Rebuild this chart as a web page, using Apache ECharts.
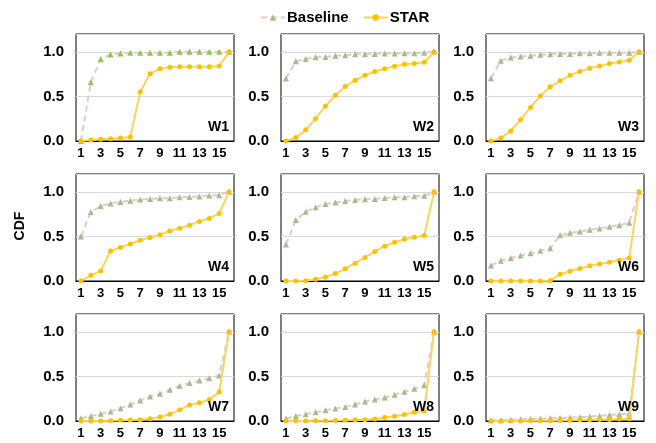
<!DOCTYPE html>
<html>
<head>
<meta charset="utf-8">
<script src="https://cdn.jsdelivr.net/npm/echarts@6/dist/echarts.min.js"></script>
<style>html,body{margin:0;padding:0;background:#fff}#c{width:656px;height:443px}</style>
</head>
<body>
<div id="c"></div>
<script>
const categories = ['1','2','3','4','5','6','7','8','9','10','11','12','13','14','15','16'];
const yTicks = [0, 0.5, 1.0];
const panelNames = ['W1','W2','W3','W4','W5','W6','W7','W8','W9'];

const baselineW1 = [0, 0.66, 0.92, 0.97, 0.98, 0.99, 0.99, 0.99, 0.99, 0.99, 1, 1, 1, 1, 1, 1];
const starW1 = [0, 0.01, 0.02, 0.025, 0.035, 0.045, 0.55, 0.755, 0.81, 0.826, 0.834, 0.834, 0.834, 0.834, 0.84, 1];
const baselineW2 = [0.70, 0.895, 0.92, 0.94, 0.943, 0.955, 0.962, 0.974, 0.974, 0.977, 0.98, 0.98, 0.985, 0.985, 0.99, 1];
const starW2 = [0, 0.038, 0.125, 0.25, 0.39, 0.513, 0.61, 0.68, 0.736, 0.78, 0.81, 0.838, 0.86, 0.87, 0.883, 1];
const baselineW3 = [0.705, 0.90, 0.936, 0.947, 0.955, 0.966, 0.974, 0.977, 0.977, 0.985, 0.985, 0.99, 0.99, 0.99, 0.99, 1];
const starW3 = [0, 0.034, 0.113, 0.238, 0.377, 0.506, 0.608, 0.675, 0.736, 0.78, 0.815, 0.84, 0.868, 0.887, 0.906, 1];
const baselineW4 = [0.50, 0.774, 0.84, 0.87, 0.887, 0.90, 0.913, 0.92, 0.928, 0.928, 0.94, 0.943, 0.947, 0.958, 0.962, 1];
const starW4 = [0, 0.064, 0.113, 0.336, 0.377, 0.415, 0.457, 0.487, 0.52, 0.562, 0.592, 0.626, 0.668, 0.70, 0.758, 1];
const baselineW5 = [0.41, 0.683, 0.777, 0.826, 0.864, 0.88, 0.898, 0.909, 0.917, 0.92, 0.932, 0.94, 0.94, 0.951, 0.955, 1];
const starW5 = [0, 0, 0.004, 0.02, 0.045, 0.083, 0.136, 0.2, 0.264, 0.332, 0.39, 0.434, 0.468, 0.49, 0.51, 1];
const baselineW6 = [0.174, 0.226, 0.257, 0.287, 0.31, 0.34, 0.366, 0.513, 0.54, 0.555, 0.574, 0.59, 0.608, 0.626, 0.653, 1];
const starW6 = [0, 0, 0, 0, 0, 0, 0.004, 0.075, 0.11, 0.14, 0.17, 0.19, 0.21, 0.234, 0.257, 1];
const baselineW7 = [0.03, 0.057, 0.08, 0.106, 0.143, 0.185, 0.23, 0.275, 0.306, 0.35, 0.396, 0.426, 0.453, 0.48, 0.51, 1];
const starW7 = [0, 0, 0, 0.004, 0.008, 0.011, 0.015, 0.026, 0.045, 0.075, 0.125, 0.18, 0.204, 0.24, 0.325, 1];
const baselineW8 = [0.026, 0.057, 0.075, 0.098, 0.12, 0.14, 0.158, 0.185, 0.219, 0.24, 0.264, 0.294, 0.328, 0.362, 0.40, 1];
const starW8 = [0, 0, 0, 0.002, 0.004, 0.006, 0.008, 0.011, 0.015, 0.023, 0.038, 0.053, 0.072, 0.098, 0.113, 1];
const baselineW9 = [0.008, 0.008, 0.015, 0.02, 0.023, 0.026, 0.03, 0.034, 0.038, 0.042, 0.049, 0.057, 0.068, 0.075, 0.083, 1];
const starW9 = [0, 0, 0, 0, 0.002, 0.003, 0.004, 0.006, 0.008, 0.011, 0.015, 0.018, 0.018, 0.022, 0.025, 1];

const baselineAll = [baselineW1, baselineW2, baselineW3, baselineW4, baselineW5, baselineW6, baselineW7, baselineW8, baselineW9];
const starAll = [starW1, starW2, starW3, starW4, starW5, starW6, starW7, starW8, starW9];

const FONT = 'Liberation Sans, Arial, sans-serif';
const colLeft = [76, 281, 486];
const rowTop = [34, 174, 314];
const gW = 158, gH = 107;

const grids = [], xAxes = [], yAxes = [], series = [], graphics = [];
for (let i = 0; i < 9; i++) {
  const r = Math.floor(i / 3), c = i % 3;
  grids.push({left: colLeft[c], top: rowTop[r], width: gW, height: gH, show: true, borderColor: '#000', borderWidth: 1, backgroundColor: 'transparent'});
  xAxes.push({
    type: 'category', gridIndex: i, data: categories, boundaryGap: true,
    axisLine: {show: true, lineStyle: {color: '#000', width: 1}},
    axisTick: {show: false},
    axisLabel: {interval: 1, color: '#000', fontWeight: 'bold', fontSize: 13, fontFamily: FONT, margin: 6}
  });
  yAxes.push({
    type: 'value', gridIndex: i, min: 0, max: 1.2, interval: 0.5,
    axisLine: {show: false}, axisTick: {show: false},
    splitLine: {show: true, lineStyle: {color: '#d9d9d9', width: 1}},
    axisLabel: {color: '#000', fontWeight: 'bold', fontSize: 15, fontFamily: FONT, margin: 12,
      formatter: v => (yTicks.some(t => Math.abs(t - v) < 1e-9) ? v.toFixed(1) : '')}
  });
  series.push({
    name: 'Baseline', type: 'line', xAxisIndex: i, yAxisIndex: i, data: baselineAll[i],
    symbol: 'triangle', symbolSize: 6,
    lineStyle: {color: '#e8c8cc', width: 2, type: [6, 4]},
    itemStyle: {color: i === 0 ? '#8cc84b' : '#a3bd8e'},
    z: 2, animation: false
  });
  series.push({
    name: 'STAR', type: 'line', xAxisIndex: i, yAxisIndex: i, data: starAll[i],
    symbol: 'circle', symbolSize: 5,
    lineStyle: {color: '#f8d55e', width: 2},
    itemStyle: {color: '#ffc000'},
    z: 3, animation: false
  });
  graphics.push({
    type: 'text', right: 656 - (colLeft[c] + gW - 5), top: rowTop[r] + gH - 21,
    style: {text: panelNames[i], fill: '#000', font: 'bold 14px ' + FONT}, z: 10
  });
}
graphics.push({
  type: 'text', x: 20, y: 226, rotation: Math.PI / 2,
  style: {text: 'CDF', fill: '#000', font: 'bold 14px ' + FONT, align: 'center', verticalAlign: 'middle'}
});

const chart = echarts.init(document.getElementById('c'), null, {renderer: 'canvas'});
chart.setOption({
  animation: false,
  backgroundColor: '#fff',
  legend: {
    top: 5, left: 255, itemWidth: 24, itemHeight: 8, itemGap: 14, itemStyle: {},
    textStyle: {color: '#000', fontWeight: 'bold', fontSize: 15, fontFamily: FONT, padding: [0, 0, 0, -3]},
    data: [
      {name: 'Baseline', itemStyle: {color: '#a3bd8e'}},
      {name: 'STAR', itemStyle: {color: '#ffc000'}}
    ]
  },
  grid: grids, xAxis: xAxes, yAxis: yAxes, series: series, graphic: graphics
});
</script>
</body>
</html>
